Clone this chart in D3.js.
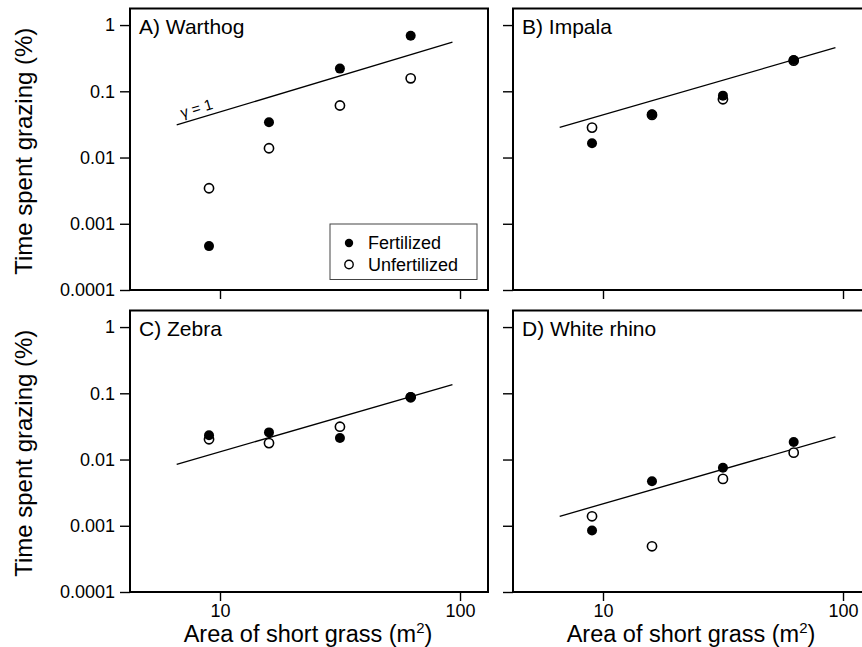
<!DOCTYPE html>
<html><head><meta charset="utf-8">
<script src="https://cdn.jsdelivr.net/npm/d3@7"></script>
<style>
body{margin:0;background:#fff}
svg{display:block}
text{font-family:"Liberation Sans",Arial,Helvetica,sans-serif;fill:#000}
</style>
</head><body>
<svg id="c" width="862" height="647"></svg>
<script>
// ---- data ----
const areas = [9, 16, 31.6, 62.3];
const panelTitles = ["A) Warthog", "B) Impala", "C) Zebra", "D) White rhino"];
const fertilized = [
  [0.00046, 0.034, 0.22, 0.69],
  [0.0164, 0.045, 0.086, 0.297],
  [0.0232, 0.0257, 0.0211, 0.0877],
  [0.00085, 0.0047, 0.0075, 0.0184]
];
const unfertilized = [
  [0.00344, 0.0138, 0.061, 0.157],
  [0.0283, 0.044, 0.0757, 0.29],
  [0.0202, 0.0177, 0.0313, 0.087],
  [0.00139, 0.00049, 0.0051, 0.0127]
];
const fitLineX = [6.6, 93];
const fitLineY = [[0.031, 0.554], [0.0286, 0.455], [0.00847, 0.135], [0.00139, 0.0219]];
const yTicks = [0.0001, 0.001, 0.01, 0.1, 1];
const yTickLabels = ["0.0001", "0.001", "0.01", "0.1", "1"];
const xTicks = [10, 100];
const xTickLabels = ["10", "100"];
const legendLabels = ["Fertilized", "Unfertilized"];
const yTitle = "Time spent grazing (%)";
const xTitleMain = "Area of short grass (m";
const xTitleSup = "2";
const gammaLabel = "γ = 1";

// ---- layout ----
const svg = d3.select("#c");
const W = 358, H = 281.5;
const origins = [[130, 8.5], [513, 8.5], [130, 310.5], [513, 310.5]];
const x = d3.scaleLog().domain([4.217, 130.8]).range([0, W]);
const y = d3.scaleLog().domain([1e-4, Math.pow(10, 0.25)]).range([H, 0]);

origins.forEach((o, i) => {
  const g = svg.append("g").attr("transform", `translate(${o[0]},${o[1]})`);
  const left = (i % 2 === 0), bottom = (i >= 2);

  // y axis
  const ya = d3.axisLeft(y).tickValues(yTicks).tickSize(10).tickPadding(5)
    .tickFormat((d, k) => left ? yTickLabels[k] : "");
  const yg = g.append("g").call(ya);
  yg.select(".domain").remove();
  yg.selectAll("line").attr("stroke", "#000").attr("stroke-width", 1.4);
  yg.selectAll("text").attr("font-size", 18).attr("font-family", null);

  // x axis
  const xa = d3.axisBottom(x).tickValues(xTicks).tickSize(9).tickPadding(3)
    .tickFormat((d, k) => bottom ? xTickLabels[k] : "");
  const xg = g.append("g").attr("transform", `translate(0,${H})`).call(xa);
  xg.select(".domain").remove();
  xg.selectAll("line").attr("stroke", "#000").attr("stroke-width", 1.4);
  xg.selectAll("text").attr("font-size", 18).attr("font-family", null);

  // frame
  g.append("rect").attr("x", 0).attr("y", 0).attr("width", W).attr("height", H)
    .attr("fill", "none").attr("stroke", "#000").attr("stroke-width", 2);

  // fitted line
  const p1 = [x(fitLineX[0]), y(fitLineY[i][0])];
  const p2 = [x(fitLineX[1]), y(fitLineY[i][1])];
  g.append("line").attr("x1", p1[0]).attr("y1", p1[1]).attr("x2", p2[0]).attr("y2", p2[1])
    .attr("stroke", "#000").attr("stroke-width", 1.3);

  if (i === 0) {
    const ang = Math.atan2(p2[1] - p1[1], p2[0] - p1[0]) * 180 / Math.PI;
    const t = 0.025;
    const tx = p1[0] + t * (p2[0] - p1[0]), ty = p1[1] + t * (p2[1] - p1[1]);
    g.append("text").attr("transform", `translate(${tx},${ty}) rotate(${ang})`)
      .attr("dy", -5).attr("font-size", 15).text(gammaLabel);
  }

  // points: unfertilized first, fertilized on top
  g.selectAll("circle.u").data(unfertilized[i]).join("circle").attr("class", "u")
    .attr("cx", (d, k) => x(areas[k])).attr("cy", d => y(d)).attr("r", 4.6)
    .attr("fill", "#fff").attr("stroke", "#000").attr("stroke-width", 1.6);
  g.selectAll("circle.f").data(fertilized[i]).join("circle").attr("class", "f")
    .attr("cx", (d, k) => x(areas[k])).attr("cy", d => y(d)).attr("r", 5)
    .attr("fill", "#000");

  // panel title
  g.append("text").attr("x", 9).attr("y", 25).attr("font-size", 21).text(panelTitles[i]);

  // axis titles
  if (left) {
    svg.append("text").attr("transform", `translate(32,${o[1] + H / 2 + 2}) rotate(-90)`)
      .attr("text-anchor", "middle").attr("font-size", 24).text(yTitle);
  }
  if (bottom) {
    const t = svg.append("text").attr("x", o[0] + W / 2 - 1).attr("y", 642)
      .attr("text-anchor", "middle").attr("font-size", 23.5);
    t.append("tspan").text(xTitleMain);
    t.append("tspan").attr("font-size", 15).attr("dy", -9).text(xTitleSup);
    t.append("tspan").attr("dy", 9).text(")");
  }

  // legend
  if (i === 0) {
    const lg = g.append("g").attr("transform", `translate(${330 - o[0]},${224 - o[1]})`);
    lg.append("rect").attr("width", 147).attr("height", 55.5).attr("fill", "#fff")
      .attr("stroke", "#444").attr("stroke-width", 1);
    legendLabels.forEach((lab, k) => {
      const cy = 19 + k * 21.5;
      lg.append("circle").attr("cx", 19).attr("cy", cy).attr("r", 4.2)
        .attr("fill", k === 0 ? "#000" : "#fff").attr("stroke", "#000").attr("stroke-width", k === 0 ? 0 : 1.4);
      lg.append("text").attr("x", 38).attr("y", cy).attr("dy", "0.35em").attr("font-size", 18).text(lab);
    });
  }
});
</script>
</body></html>
